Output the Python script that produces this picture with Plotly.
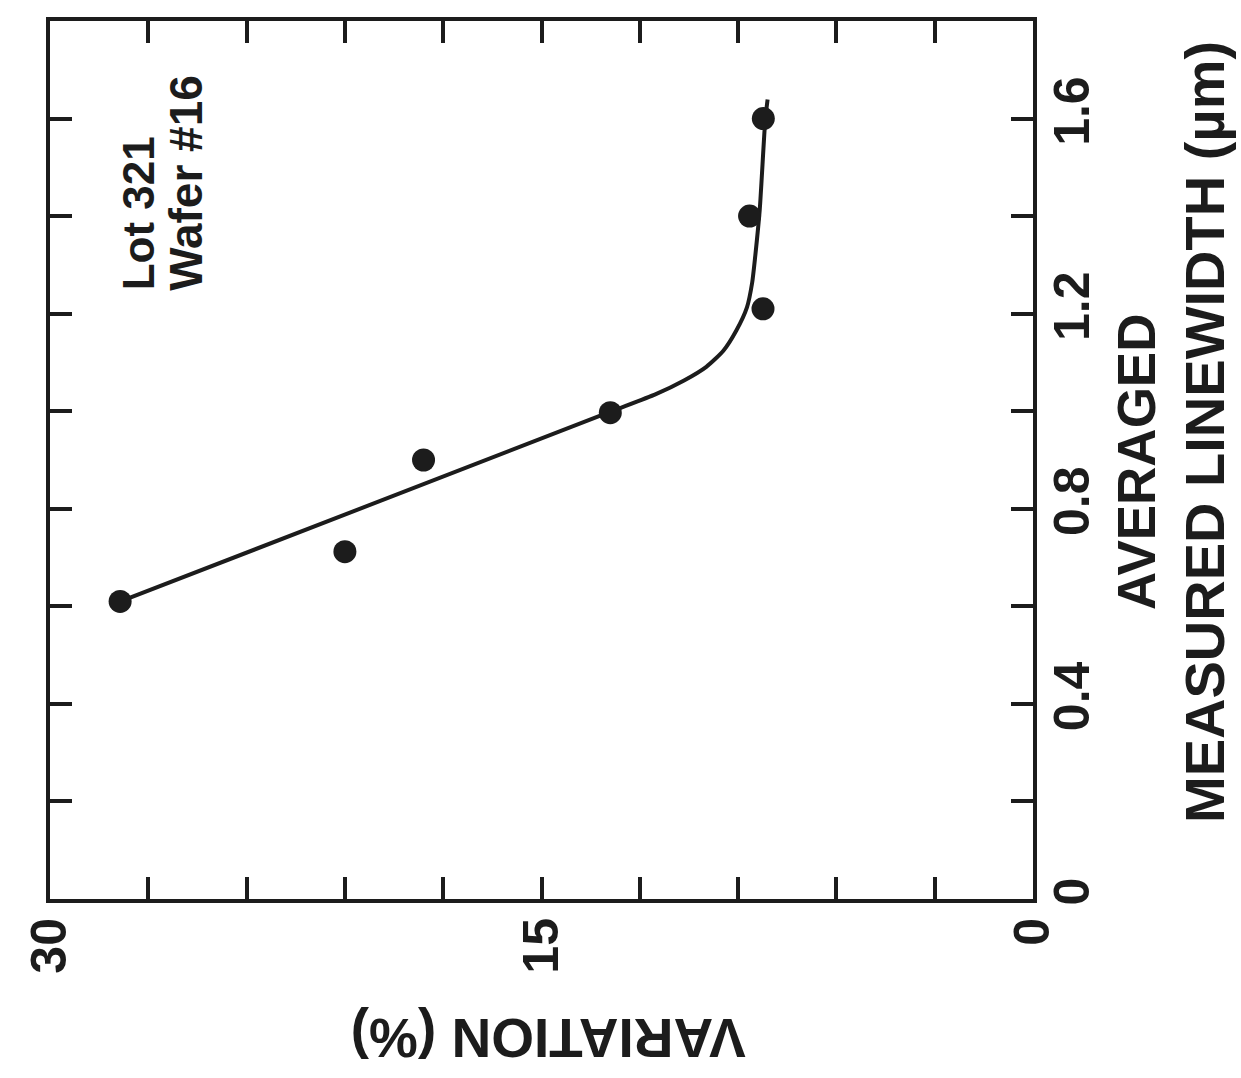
import plotly.graph_objects as go

# Measured data points (variation %, averaged measured linewidth um)
variation_pts = [27.86, 21.0, 18.6, 12.9, 8.24, 8.65, 8.23]
linewidth_pts = [0.61, 0.712, 0.90, 0.997, 1.21, 1.40, 1.60]

# Hand-drawn fit curve
curve_variation = [27.85, 12.89, 11.51, 10.65, 9.97, 9.45, 9.05, 8.73, 8.57, 8.48, 8.34, 8.17, 8.10]
curve_linewidth = [0.610, 0.999, 1.035, 1.063, 1.091, 1.124, 1.166, 1.213, 1.264, 1.316, 1.413, 1.598, 1.639]

# Axis ticks
x_tickvals = [0, 3, 6, 9, 12, 15, 18, 21, 24, 27, 30]
x_ticktext = ["0", "", "", "", "", "15", "", "", "", "", "30"]
y_tickvals = [0, 0.2, 0.4, 0.6, 0.8, 1.0, 1.2, 1.4, 1.6]
y_ticktext = ["0", "", "0.4", "", "0.8", "", "1.2", "", "1.6"]

INK = "#1c1c1c"
FONT = "Liberation Sans, Arial, Helvetica, sans-serif"

fig = go.Figure()
fig.add_trace(go.Scatter(
    x=curve_variation, y=curve_linewidth, mode="lines",
    line=dict(color=INK, width=4, shape="spline", smoothing=0.6),
    showlegend=False, hoverinfo="skip"))
fig.add_trace(go.Scatter(
    x=variation_pts, y=linewidth_pts, mode="markers",
    marker=dict(color=INK, size=23, line=dict(width=0)),
    showlegend=False))

axis_common = dict(
    showgrid=False, zeroline=False, showline=True, linecolor=INK, linewidth=4,
    mirror="ticks", ticks="inside", ticklen=22, tickwidth=3.5, tickcolor=INK,
    tickangle=-90,
    tickfont=dict(family=FONT, size=50, color=INK, weight="bold"),
)

fig.update_layout(
    width=1241, height=1078,
    margin=dict(l=50, r=208, t=21, b=179),
    paper_bgcolor="white", plot_bgcolor="white",
    font=dict(family=FONT, color=INK),
    xaxis=dict(range=[30, 0], tickmode="array", tickvals=x_tickvals,
               ticktext=x_ticktext, ticklabelstandoff=-5, **axis_common),
    yaxis=dict(range=[0, 1.8], side="right", tickmode="array",
               tickvals=y_tickvals, ticktext=y_ticktext,
               ticklabelstandoff=-8, **axis_common),
    annotations=[
        dict(text="AVERAGED", x=1.106, y=0.498, xref="paper", yref="paper",
             xanchor="center", yanchor="middle",
             showarrow=False, textangle=-90,
             font=dict(family=FONT, size=53, color=INK, weight="bold")),
        dict(text="MEASURED LINEWIDTH (µm)", x=1.175, y=0.532, xref="paper",
             yref="paper", xanchor="center", yanchor="middle",
             showarrow=False, textangle=-90,
             font=dict(family=FONT, size=56, color=INK, weight="bold")),
        dict(text="VARIATION (%)", x=0.507, y=-0.159, xref="paper", yref="paper",
             xanchor="center", yanchor="middle",
             showarrow=False, textangle=180,
             font=dict(family=FONT, size=55, color=INK, weight="bold")),
        dict(text="Lot 321", x=0.0895, y=0.691, xref="paper", yref="paper",
             xanchor="center", yanchor="bottom", showarrow=False, textangle=-90,
             font=dict(family=FONT, size=44, color=INK, weight="bold")),
        dict(text="Wafer #16", x=0.139, y=0.690, xref="paper", yref="paper",
             xanchor="center", yanchor="bottom", showarrow=False, textangle=-90,
             font=dict(family=FONT, size=46, color=INK, weight="bold")),
    ],
)

fig.write_html("out.html")
